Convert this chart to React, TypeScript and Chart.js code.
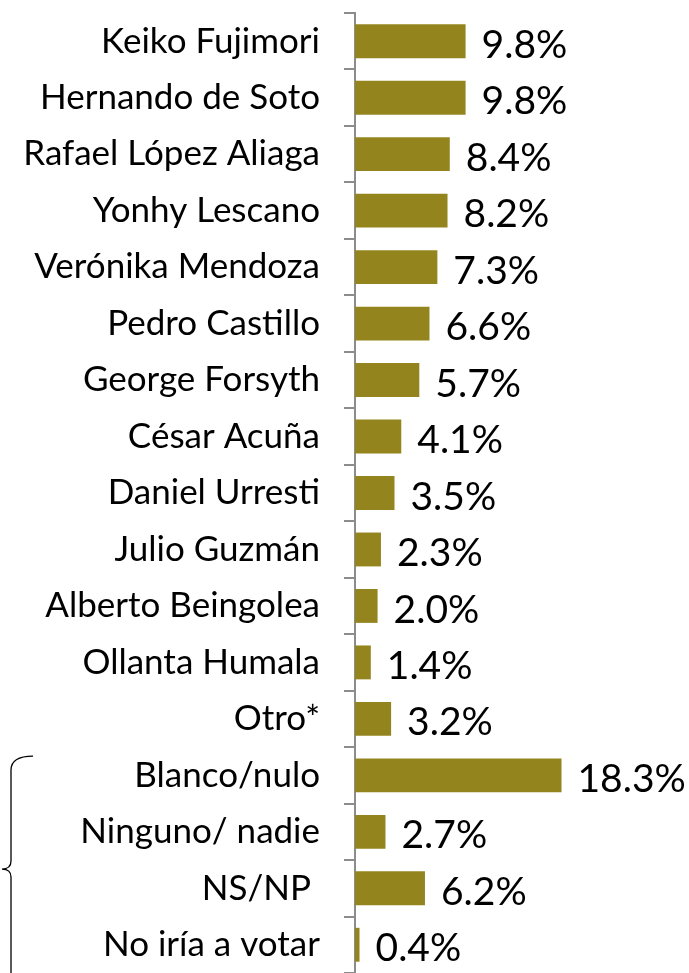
import React, { useEffect, useRef } from "react";
import { Chart, registerables } from "chart.js";

Chart.register(...registerables);

const categories = [
  "Keiko Fujimori",
  "Hernando de Soto",
  "Rafael López Aliaga",
  "Yonhy Lescano",
  "Verónika Mendoza",
  "Pedro Castillo",
  "George Forsyth",
  "César Acuña",
  "Daniel Urresti",
  "Julio Guzmán",
  "Alberto Beingolea",
  "Ollanta Humala",
  "Otro*",
  "Blanco/nulo",
  "Ninguno/ nadie",
  "NS/NP ",
  "No iría a votar",
];

const values = [9.8, 9.8, 8.4, 8.2, 7.3, 6.6, 5.7, 4.1, 3.5, 2.3, 2.0, 1.4, 3.2, 18.3, 2.7, 6.2, 0.4];

const bracketFrom = "Blanco/nulo";

const FONT = "Lato, 'Open Sans', sans-serif";

export default function App() {
  const ref = useRef<HTMLCanvasElement | null>(null);

  useEffect(() => {
    const canvas = ref.current!;
    const valueLabels = {
      id: "valueLabels",
      afterDatasetsDraw(chart: any) {
        const ctx = chart.ctx;
        const meta = chart.getDatasetMeta(0);
        ctx.save();
        ctx.font = `39px ${FONT}`;
        ctx.fillStyle = "#000";
        ctx.textAlign = "left";
        ctx.textBaseline = "middle";
        meta.data.forEach((bar: any, i: number) => {
          ctx.fillText(values[i].toFixed(1) + "%", bar.x + 16, bar.y + 4);
        });
        ctx.restore();
      },
    };
    const bracket = {
      id: "bracket",
      afterDraw(chart: any) {
        const ctx = chart.ctx;
        const y = chart.scales.y;
        const idx = categories.indexOf(bracketFrom);
        const step = y.getPixelForValue(1) - y.getPixelForValue(0);
        const top = y.getPixelForValue(idx) - step / 2 + 9;
        const bottom = chart.height + 5;
        const mid = top + (y.getPixelForValue(idx + 2) - y.getPixelForValue(idx));
        ctx.save();
        ctx.strokeStyle = "#000";
        ctx.lineWidth = 1.3;
        ctx.beginPath();
        ctx.moveTo(33, top);
        ctx.quadraticCurveTo(11, top, 11, top + 14);
        ctx.lineTo(11, mid - 8);
        ctx.quadraticCurveTo(11, mid, 2, mid);
        ctx.quadraticCurveTo(11, mid, 11, mid + 8);
        ctx.lineTo(11, bottom);
        ctx.stroke();
        ctx.restore();
      },
    };
    const chart = new Chart(canvas, {
      type: "bar",
      data: {
        labels: categories,
        datasets: [
          {
            data: values,
            backgroundColor: "#93841E",
            borderWidth: 0,
            barPercentage: 0.6,
            categoryPercentage: 1,
          },
        ],
      },
      options: {
        indexAxis: "y",
        animation: false,
        responsive: false,
        layout: { padding: { top: 13, bottom: 0, left: 0, right: 0 } },
        plugins: { legend: { display: false }, tooltip: { enabled: false } },
        scales: {
          x: { display: false, min: 0, max: 29.6 },
          y: {
            afterFit: (s: any) => {
              s.width = 355;
              s.paddingTop = 0;
              s.paddingBottom = 0;
            },
            border: { display: true, color: "#8c8c8c", width: 2 },
            grid: {
              display: true,
              drawOnChartArea: false,
              drawTicks: true,
              tickLength: 11,
              color: "#8c8c8c",
              lineWidth: 2,
              offset: true,
            },
            ticks: {
              color: "#000",
              padding: 24,
              font: { family: FONT, size: 35 },
            },
          },
        },
      },
      plugins: [valueLabels, bracket],
    });
    return () => chart.destroy();
  }, []);

  return (
    <div style={{ position: "fixed", left: 0, top: 0, width: 689, height: 973, background: "#fff" }}>
      <canvas ref={ref} width={689} height={973} />
    </div>
  );
}
